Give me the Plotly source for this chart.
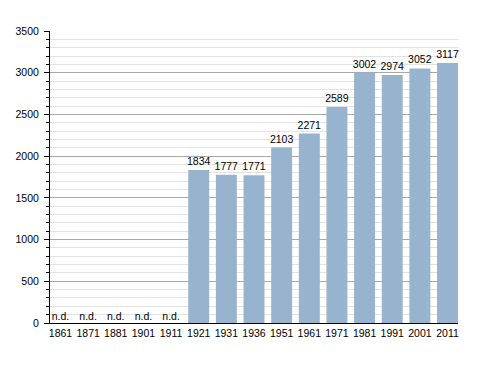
import plotly.graph_objects as go

years = ["1861", "1871", "1881", "1901", "1911", "1921", "1931", "1936",
         "1951", "1961", "1971", "1981", "1991", "2001", "2011"]
population = [None, None, None, None, None, 1834, 1777, 1771,
              2103, 2271, 2589, 3002, 2974, 3052, 3117]
nd_years = ["1861", "1871", "1881", "1901", "1911"]
nd_values = [0, 0, 0, 0, 0]
nd_label = "n.d."

FONT = "Liberation Sans, Arial, sans-serif"
FS = 10.5
BARGAP = 0.242
half = (1 - BARGAP) / 2

fig = go.Figure()
fig.add_trace(go.Bar(
    x=years, y=population,
    marker=dict(color="#98b3cd", line=dict(width=0)),
    text=[("" if v is None else str(v)) for v in population],
    textposition="outside",
    constraintext="none",
    textfont=dict(family=FONT, size=FS, color="#000"),
    cliponaxis=False,
    hoverinfo="x+y",
))
fig.add_trace(go.Scatter(
    x=nd_years, y=nd_values, mode="text",
    text=[nd_label] * len(nd_years),
    textposition="top center",
    textfont=dict(family=FONT, size=FS, color="#000"),
    cliponaxis=False, hoverinfo="skip",
))

fig.update_layout(
    width=488, height=373,
    margin=dict(l=42, r=38, t=23, b=58),
    paper_bgcolor="white", plot_bgcolor="white",
    showlegend=False,
    bargap=BARGAP,
    font=dict(family=FONT, size=FS, color="#000"),
)
fig.update_xaxes(
    type="category", categoryorder="array", categoryarray=years,
    range=[-half, len(years) - 1 + half],
    showline=True, linecolor="#000", linewidth=1, automargin=False,
    ticks="", showgrid=False, ticklabelstandoff=0, tickangle=0,
    tickfont=dict(family=FONT, size=FS, color="#000"),
)
fig.update_yaxes(
    range=[0, 3500], dtick=500, tick0=0, automargin=False,
    showline=True, linecolor="#000", linewidth=1,
    ticks="outside", ticklen=5, tickcolor="#000", tickwidth=1,
    showgrid=True, gridcolor="#a8a8a8", gridwidth=1,
    zeroline=False, ticklabelstandoff=3,
    tickfont=dict(family=FONT, size=FS, color="#000"),
    minor=dict(dtick=100, showgrid=True, gridcolor="#e3e3e3",
               ticks="outside", ticklen=3, tickcolor="#000"),
)

fig.write_html("out.html")
